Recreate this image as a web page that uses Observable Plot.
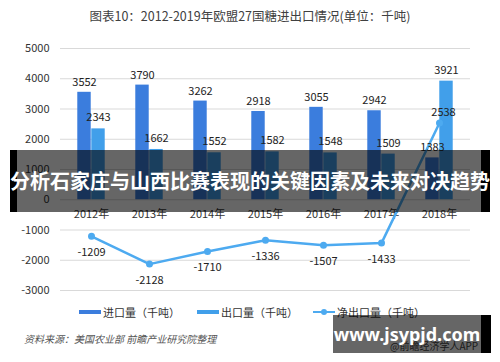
<!DOCTYPE html>
<html>
<head>
<meta charset="utf-8">
<script src="https://cdn.jsdelivr.net/npm/d3@7"></script>
<script src="https://cdn.jsdelivr.net/npm/@observablehq/plot@0.6"></script>
<style>
  html, body { margin: 0; padding: 0; background: #fff; }
  #wrap { position: relative; width: 500px; height: 362px; overflow: hidden; font-family: "Noto Sans CJK SC", "Noto Sans", sans-serif; }
  #title { position: absolute; top: 6px; left: 0; width: 500px; text-align: center; font-size: 12.5px; color: #404040; }
  #chart { position: absolute; top: 32px; left: 0; }
  #legend { position: absolute; top: 304px; left: 0; width: 500px; height: 16px; font-size: 11px; color: #333; }
  .lg { position: absolute; top: 0; line-height: 16px; white-space: nowrap; }
  .sw { position: absolute; top: 6px; height: 4px; width: 22px; }
  #source { position: absolute; top: 331px; left: 24px; font-size: 10px; font-style: italic; color: #555; }
  #app { position: absolute; top: 338px; left: 390px; font-size: 10px; color: #444; white-space: nowrap; }
  #banner { position: absolute; top: 150px; left: 10px; width: 480px; height: 62px; background: #000; }
  #bannerIn { position: absolute; top: 0; left: 7px; width: 464px; height: 62px; background: rgba(0,0,0,0); }
  #bannerText { position: absolute; top: 150px; left: 0; width: 500px; height: 62px; line-height: 62px; text-align: center; color: #fff; font-weight: bold; font-size: 20px; white-space: nowrap; }
  #wm { position: absolute; top: 315px; left: 333px; width: 148px; height: 38px; background: rgba(0,0,0,0.6); }
  #wmEdge { position: absolute; top: 315px; left: 481px; width: 10px; height: 38px; background: #000; }
  #wmText { position: absolute; top: 315px; left: 333px; width: 148px; height: 38px; line-height: 38px; text-align: center; color: #fff; font-weight: bold; font-size: 18px; font-family: "Noto Sans", sans-serif; white-space: nowrap; }
</style>
</head>
<body>
<div id="wrap">
  <div id="title">图表10：2012-2019年欧盟27国糖进出口情况(单位：千吨)</div>
  <div id="chart"></div>
  <div id="legend"></div>
  <div id="source">资料来源：美国农业部 前瞻产业研究院整理</div>
  <div id="app">@前瞻经济学人APP</div>
  <div id="bannerL" style="position:absolute;top:150px;left:10px;width:7px;height:62px;background:#000"></div>
  <div id="bannerM" style="position:absolute;top:150px;left:17px;width:464px;height:62px;background:rgba(0,0,0,0.6)"></div>
  <div id="bannerR" style="position:absolute;top:150px;left:481px;width:9px;height:62px;background:#000"></div>
  <div id="bannerText">分析石家庄与山西比赛表现的关键因素及未来对决趋势</div>
  <div id="wm"></div>
  <div id="wmEdge"></div>
  <div id="wmText">www.jsypjd.com</div>
</div>
<script>
const years = ["2012年", "2013年", "2014年", "2015年", "2016年", "2017年", "2018年"];
const imports = [3552, 3790, 3262, 2918, 3055, 2942, 1383];
const exports = [2343, 1662, 1552, 1582, 1548, 1509, 3921];
const net = [-1209, -2128, -1710, -1336, -1507, -1433, 2538];
const yTicks = [-3000, -2000, -1000, 0, 1000, 2000, 3000, 4000, 5000];
const seriesNames = ["进口量（千吨）", "出口量（千吨）", "净出口量（千吨）"];

const colImp = "#3b7ddd";
const colExp = "#419fea";
const colNet = "#4daaf0";

const data = years.map((y, i) => ({year: y, imp: imports[i], exp: exports[i], net: net[i]}));

const W = 500, H = 268, ML = 60, MR = 30;
const step = (W - ML - MR) / years.length;
const bw = 14;

const chart = Plot.plot({
  width: W,
  height: H,
  marginLeft: ML,
  marginRight: MR,
  marginTop: 16,
  marginBottom: 10,
  style: {fontFamily: '"Noto Sans CJK SC", "Noto Sans", sans-serif', fontSize: "11px", color: "#333", background: "transparent"},
  x: {type: "band", domain: years, padding: 0, axis: null},
  y: {domain: [-3000, 5000], ticks: yTicks, tickSize: 0, tickPadding: 11, label: null, tickFormat: d => String(d)},
  marks: [
    Plot.ruleY(yTicks, {stroke: "#d9d9d9", strokeWidth: 1}),
    Plot.barY(data, {x: "year", y: "imp", fill: colImp, insetLeft: step / 2 - bw, insetRight: step / 2}),
    Plot.barY(data, {x: "year", y: "exp", fill: colExp, insetLeft: step / 2, insetRight: step / 2 - bw}),
    Plot.text(years, {x: d => d, y: () => 0, text: d => d, dy: 15, fill: "#333", fontSize: 11}),
    Plot.line(data, {x: "year", y: "net", stroke: colNet, strokeWidth: 2.5}),
    Plot.dot(data, {x: "year", y: "net", fill: colNet, r: 3.5}),
    Plot.text(data, {x: "year", y: "imp", text: d => String(d.imp), dx: -bw / 2, dy: -10, fill: "#222", fontSize: 11}),
    Plot.text(data, {x: "year", y: "exp", text: d => String(d.exp), dx: bw / 2, dy: -11, fill: "#222", fontSize: 11}),
    Plot.text(data.filter(d => d.net < 0), {x: "year", y: "net", text: d => String(d.net), dy: 16, fill: "#222", fontSize: 11}),
    Plot.text(data.filter(d => d.net >= 0), {x: "year", y: "net", text: d => String(d.net), dx: 4, dy: -11, fill: "#222", fontSize: 11})
  ]
});
document.getElementById("chart").appendChild(chart);

// legend
const lg = document.getElementById("legend");
const items = [
  {x: 79, color: colImp, type: "bar"},
  {x: 197, color: colExp, type: "bar"},
  {x: 313, color: colNet, type: "line"}
];
items.forEach((it, i) => {
  const sw = document.createElement("div");
  if (it.type === "bar") {
    sw.className = "sw";
    sw.style.left = it.x + "px";
    sw.style.background = it.color;
  } else {
    sw.style.position = "absolute";
    sw.style.left = it.x + "px";
    sw.style.top = "7px";
    sw.style.width = "22px";
    sw.style.height = "2px";
    sw.style.background = it.color;
    const dot = document.createElement("div");
    dot.style.cssText = `position:absolute;left:${it.x + 8}px;top:5px;width:6px;height:6px;border-radius:3px;background:${it.color}`;
    lg.appendChild(dot);
  }
  lg.appendChild(sw);
  const t = document.createElement("div");
  t.className = "lg";
  t.style.left = (it.x + 24) + "px";
  t.textContent = seriesNames[i];
  lg.appendChild(t);
});
</script>
</body>
</html>
